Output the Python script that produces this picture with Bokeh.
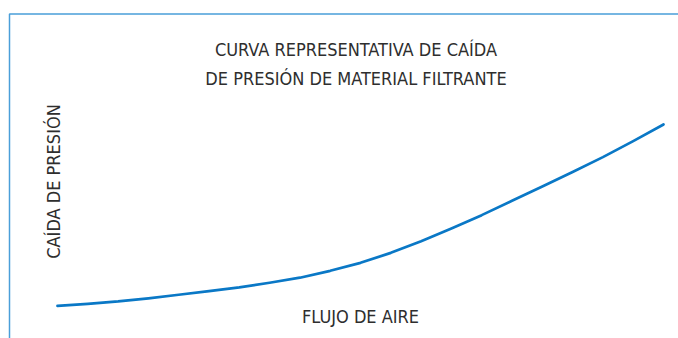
from bokeh.plotting import figure
from bokeh.models import Range1d, Label, BoxAnnotation
from bokeh.embed import file_html
from bokeh.resources import INLINE
import math

# Data (arbitrary units)
flujo = [0, 5, 10, 15, 20, 25, 30, 35, 40, 45, 50, 55, 60, 65, 70, 75, 80, 85, 90, 95, 100]
presion = [0, 1.1, 2.4, 4.1, 6.1, 8.1, 10.2, 12.7, 15.5, 19.3, 23.7, 29.2, 35.6,
           42.6, 50.0, 57.9, 65.8, 73.8, 82.0, 90.8, 100]

title_lines = ["CURVA REPRESENTATIVA DE CAÍDA", "DE PRESIÓN DE MATERIAL FILTRANTE"]
x_label = "FLUJO DE AIRE"
y_label = "CAÍDA DE PRESIÓN"

W, H = 678, 338
# layout mapping (pixels -> data units)
X0, SX = 57, 6.06
Y0, SY = 305.3, 1.813

def dx(px):
    return (px - X0) / SX

def dy(py):
    return (Y0 - py) / SY

p = figure(width=W, height=H, output_backend="svg", toolbar_location=None,
           x_range=Range1d(dx(0), dx(W)), y_range=Range1d(dy(H), dy(0)),
           min_border=0)
p.axis.visible = False
p.grid.visible = False
p.outline_line_color = None
p.background_fill_color = "white"
p.border_fill_color = "white"

frame = BoxAnnotation(left=dx(9), top=dy(13.5), right=dx(900), bottom=dy(600),
                      fill_alpha=0, line_color="#4a9fd9", line_width=1.5, line_alpha=1)
p.add_layout(frame)

p.line(flujo, presion, line_color="#0a78c6", line_width=2.7, line_cap="round", line_join="round")

FONT = "DejaVu Sans Condensed, sans-serif"
COL = "#2e2e2e"
SIZE = "18px"

for txt, base in zip(title_lines, [48.5, 77.5]):
    p.add_layout(Label(x=dx(355.5), y=dy(base), text=txt, text_align="center",
                       text_baseline="alphabetic", text_font=FONT, text_font_size=SIZE,
                       text_color=COL))

p.add_layout(Label(x=dx(360), y=dy(316), text=x_label, text_align="center",
                   text_baseline="alphabetic", text_font=FONT, text_font_size=SIZE,
                   text_color=COL))

p.add_layout(Label(x=dx(53), y=dy(181), text=y_label, text_align="center",
                   text_baseline="alphabetic", angle=math.pi / 2, text_font=FONT,
                   text_font_size=SIZE, text_color=COL))

open("out.html", "w").write(file_html(p, INLINE))
